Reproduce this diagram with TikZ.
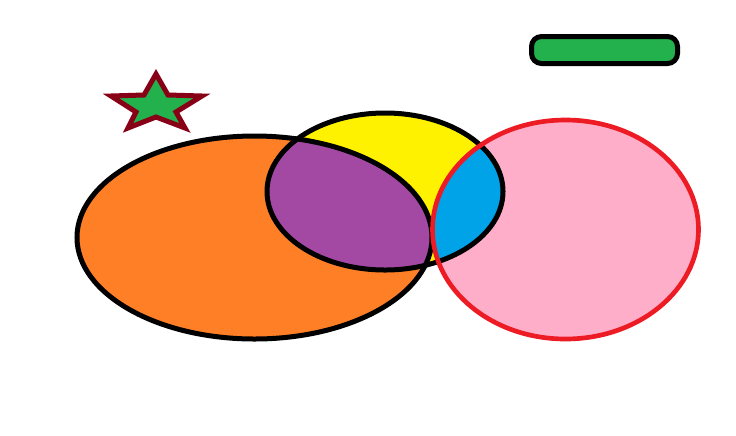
\documentclass[tikz,border=0pt]{standalone}
\usepackage{tikz}
\definecolor{paintorange}{HTML}{FF7F27}
\definecolor{paintyellow}{HTML}{FFF200}
\definecolor{paintpurple}{HTML}{A349A4}
\definecolor{paintblue}{HTML}{00A2E8}
\definecolor{paintpink}{HTML}{FFAEC9}
\definecolor{paintred}{HTML}{ED1C24}
\definecolor{paintgreen}{HTML}{22B14C}
\definecolor{paintmaroon}{HTML}{880015}

\begin{document}
\begin{tikzpicture}[x=0.03cm,y=-0.03cm,
outline/.style={draw=black, line width=0.15cm},
redline/.style={draw=paintred, line width=0.14cm},
starline/.style={draw=paintmaroon, line width=0.15cm, fill=paintgreen, line join=miter},
barbox/.style={draw=black, line width=0.15cm, fill=paintgreen, rounded corners=0.3cm}]
\useasboundingbox (0,0) rectangle (736,435);
% centres
\coordinate (co) at (254.5,237.5);
\coordinate (cy) at (385,191.5);
\coordinate (cp) at (565.5,229.5);
% fills
\fill[paintorange] (co) ellipse [x radius=177.5, y radius=101.5];
\fill[paintyellow] (cy) ellipse [x radius=118, y radius=78.5];
\fill[paintpink] (cp) ellipse [x radius=133, y radius=109.5];
% overlaps
\begin{scope}
\clip (co) ellipse [x radius=177.5, y radius=101.5];
\fill[paintpurple] (cy) ellipse [x radius=118, y radius=78.5];
\end{scope}
\begin{scope}
\clip (cp) ellipse [x radius=133, y radius=109.5];
\fill[paintblue] (cy) ellipse [x radius=118, y radius=78.5];
\end{scope}
% outlines
\draw[outline] (co) ellipse [x radius=177.5, y radius=101.5];
\draw[outline] (cy) ellipse [x radius=118, y radius=78.5];
\draw[redline] (cp) ellipse [x radius=133, y radius=109.5];
% star
\draw[starline] (156,74) -- (168,95) -- (202,96) -- (176,112) -- (185,128)
  -- (156,117) -- (128,128) -- (136,112) -- (111,96) -- (144,95) -- cycle;
% bar
\draw[barbox] (531.5,36.5) rectangle (677.5,63.5);
\end{tikzpicture}
\end{document}
